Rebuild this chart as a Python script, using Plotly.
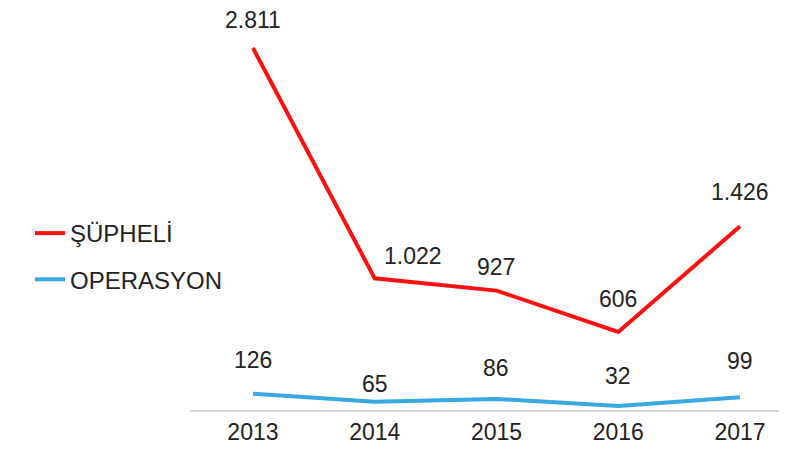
import plotly.graph_objects as go

years = ["2013", "2014", "2015", "2016", "2017"]
supheli = [2811, 1022, 927, 606, 1426]
operasyon = [126, 65, 86, 32, 99]
supheli_labels = ["2.811", "1.022", "927", "606", "1.426"]
operasyon_labels = ["126", "65", "86", "32", "99"]

# label offsets (pixels) relative to the point
sup_dx = [0, 38, 0, 0, 0]
sup_dy = [28, 22, 24, 33, 34]
op_dx = [0, 0, 0, 0, 0]
op_dy = [34, 18, 31, 30, 36]

RED = "#FF1010"
BLUE = "#38A8E0"
FONT = "Liberation Sans, Arial, sans-serif"
TXT = "#222222"

fig = go.Figure()
fig.add_trace(go.Scatter(x=years, y=supheli, mode="lines", name="ŞÜPHELİ",
                         line=dict(color=RED, width=4), legendgroup="a"))
fig.add_trace(go.Scatter(x=years, y=operasyon, mode="lines", name="OPERASYON",
                         line=dict(color=BLUE, width=4), legendgroup="b"))

anns = []
for i in range(len(years)):
    anns.append(dict(x=i, y=supheli[i], xref="x", yref="y", text=supheli_labels[i],
                     showarrow=False, xshift=sup_dx[i], yshift=sup_dy[i],
                     font=dict(size=23, color=TXT, family=FONT)))
    anns.append(dict(x=i, y=operasyon[i], xref="x", yref="y", text=operasyon_labels[i],
                     showarrow=False, xshift=op_dx[i], yshift=op_dy[i],
                     font=dict(size=23, color=TXT, family=FONT)))

W, H = 779, 449
fig.update_layout(
    width=W, height=H,
    margin=dict(l=182, r=0, t=0, b=47, autoexpand=False),
    paper_bgcolor="white", plot_bgcolor="white",
    font=dict(family=FONT, size=23, color=TXT),
    annotations=anns,
    showlegend=True,
    legend=dict(xref="container", yref="container", x=22 / W, y=1 - 203 / H,
                xanchor="left", yanchor="top", tracegroupgap=12,
                font=dict(size=24, family=FONT, color=TXT),
                bgcolor="rgba(0,0,0,0)"),
    xaxis=dict(type="category", range=[-0.517, 4.386], showgrid=False,
               showline=True, linecolor="#D9D9D9", linewidth=2,
               ticks="", tickfont=dict(size=23, family=FONT, color=TXT),
               zeroline=False, automargin=False),
    yaxis=dict(range=[0, 3121], showgrid=False, showticklabels=False,
               zeroline=False, showline=False, ticks="", automargin=False),
)

fig.write_html("out.html")
